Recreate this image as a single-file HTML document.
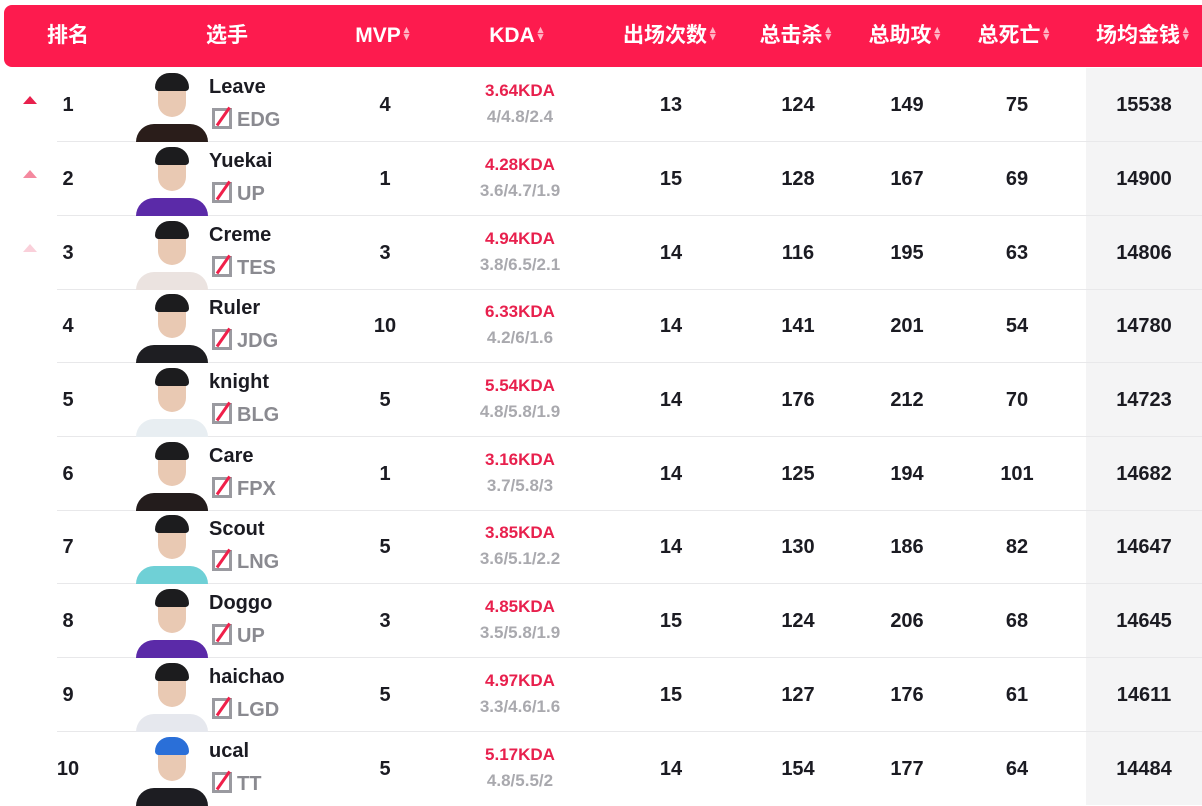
<!DOCTYPE html>
<html><head><meta charset="utf-8"><style>
*{margin:0;padding:0;box-sizing:border-box}
body{width:1202px;height:805px;background:#fff;position:relative;overflow:hidden;font-family:"Liberation Sans","Noto Sans CJK SC",sans-serif;color:#1b1b22}
.hd{position:absolute;left:4px;top:5px;width:1198px;height:62px;background:#fd1b4e;border-radius:8px 0 0 8px}
.h{position:absolute;top:5px;height:62px;line-height:62px;color:#fff;font-weight:bold;font-size:21px;transform:translateX(-50%);white-space:nowrap;font-family:"Liberation Sans","Noto Sans CJK SC",sans-serif}
.h i{font-style:normal;font-size:11px;color:#ffb3c3;margin-left:3px;vertical-align:2px;display:inline-block;line-height:7px;width:9px}
.gold{position:absolute;left:1086px;top:68px;width:116px;height:737px;background:#f4f4f5}
.r{position:absolute;left:0;width:1202px;height:74px}
.r .ln{position:absolute;left:57px;right:0;bottom:0;height:1px;background:#e8e8ea}
.c{position:absolute;top:0;height:74px;line-height:74px;font-weight:bold;font-size:20px;transform:translateX(-50%)}
.nm{position:absolute;left:209px;top:8px;font-weight:bold;font-size:20px}
.tm{position:absolute;left:212px;top:40px;font-weight:bold;font-size:20px;color:#8a8a90}
.tm b{display:inline-block;width:20px;height:21px;border:3px solid #9a9aa0;vertical-align:-3px;margin-right:5px;position:relative}
.tm b:after{content:"";position:absolute;left:2px;bottom:-1px;width:22px;height:3px;background:#f0204a;transform:rotate(-55deg);transform-origin:left}
.k1{position:absolute;left:520px;top:13px;transform:translateX(-50%);color:#e8204d;font-weight:bold;font-size:17px}
.k2{position:absolute;left:520px;top:39px;transform:translateX(-50%);color:#a9a9ae;font-weight:bold;font-size:17px}
.av{position:absolute;left:136px;top:1px;width:72px;height:73px;overflow:hidden}
.av .b{position:absolute;left:0;bottom:0;width:72px;height:18px;border-radius:20px 20px 0 0}
.av .f{position:absolute;left:22px;top:10px;width:28px;height:38px;background:#e9c9b3;border-radius:12px 12px 14px 14px}
.av .hr{position:absolute;left:19px;top:4px;width:34px;height:18px;background:#1c1c1e;border-radius:16px 16px 4px 4px}
.ar{position:absolute;left:23px;top:28px;width:0;height:0;border-left:7px solid transparent;border-right:7px solid transparent;border-bottom:8px solid #e8204d}
.ar:after{content:"";position:absolute;left:-2px;top:7px;width:4px;height:6px;background:inherit}
</style></head><body>
<div class="gold"></div>
<div class="hd"></div>
<div class="h" style="left:68px">排名</div>
<div class="h" style="left:227px">选手</div>
<div class="h" style="left:384px">MVP<i>▴<br>▾</i></div>
<div class="h" style="left:518px">KDA<i>▴<br>▾</i></div>
<div class="h" style="left:671px">出场次数<i>▴<br>▾</i></div>
<div class="h" style="left:797px">总击杀<i>▴<br>▾</i></div>
<div class="h" style="left:906px">总助攻<i>▴<br>▾</i></div>
<div class="h" style="left:1015px">总死亡<i>▴<br>▾</i></div>
<div class="h" style="left:1144px">场均金钱<i>▴<br>▾</i></div>

<div class="r" style="top:68px"><div class="ln"></div><div class="ar" style="border-bottom-color:#e8204d"><span></span></div><div class="c" style="left:68px">1</div><div class="av"><div class="b" style="background:#2a1d1a"></div><div class="f"></div><div class="hr"></div></div><div class="nm">Leave</div><div class="tm"><b></b>EDG</div><div class="c" style="left:385px">4</div><div class="k1">3.64KDA</div><div class="k2">4/4.8/2.4</div><div class="c" style="left:671px">13</div><div class="c" style="left:798px">124</div><div class="c" style="left:907px">149</div><div class="c" style="left:1017px">75</div><div class="c" style="left:1144px">15538</div></div>

<div class="r" style="top:142px"><div class="ln"></div><div class="ar" style="border-bottom-color:#f4899f"></div><div class="c" style="left:68px">2</div><div class="av"><div class="b" style="background:#5b2aa8"></div><div class="f"></div><div class="hr"></div></div><div class="nm">Yuekai</div><div class="tm"><b></b>UP</div><div class="c" style="left:385px">1</div><div class="k1">4.28KDA</div><div class="k2">3.6/4.7/1.9</div><div class="c" style="left:671px">15</div><div class="c" style="left:798px">128</div><div class="c" style="left:907px">167</div><div class="c" style="left:1017px">69</div><div class="c" style="left:1144px">14900</div></div>

<div class="r" style="top:216px"><div class="ln"></div><div class="ar" style="border-bottom-color:#fad0da"></div><div class="c" style="left:68px">3</div><div class="av"><div class="b" style="background:#ebe3e0"></div><div class="f"></div><div class="hr"></div></div><div class="nm">Creme</div><div class="tm"><b></b>TES</div><div class="c" style="left:385px">3</div><div class="k1">4.94KDA</div><div class="k2">3.8/6.5/2.1</div><div class="c" style="left:671px">14</div><div class="c" style="left:798px">116</div><div class="c" style="left:907px">195</div><div class="c" style="left:1017px">63</div><div class="c" style="left:1144px">14806</div></div>

<div class="r" style="top:289px"><div class="ln"></div><div class="c" style="left:68px">4</div><div class="av"><div class="b" style="background:#1e1e22"></div><div class="f"></div><div class="hr"></div></div><div class="nm">Ruler</div><div class="tm"><b></b>JDG</div><div class="c" style="left:385px">10</div><div class="k1">6.33KDA</div><div class="k2">4.2/6/1.6</div><div class="c" style="left:671px">14</div><div class="c" style="left:798px">141</div><div class="c" style="left:907px">201</div><div class="c" style="left:1017px">54</div><div class="c" style="left:1144px">14780</div></div>

<div class="r" style="top:363px"><div class="ln"></div><div class="c" style="left:68px">5</div><div class="av"><div class="b" style="background:#e8eef2"></div><div class="f"></div><div class="hr"></div></div><div class="nm">knight</div><div class="tm"><b></b>BLG</div><div class="c" style="left:385px">5</div><div class="k1">5.54KDA</div><div class="k2">4.8/5.8/1.9</div><div class="c" style="left:671px">14</div><div class="c" style="left:798px">176</div><div class="c" style="left:907px">212</div><div class="c" style="left:1017px">70</div><div class="c" style="left:1144px">14723</div></div>

<div class="r" style="top:437px"><div class="ln"></div><div class="c" style="left:68px">6</div><div class="av"><div class="b" style="background:#231c1c"></div><div class="f"></div><div class="hr"></div></div><div class="nm">Care</div><div class="tm"><b></b>FPX</div><div class="c" style="left:385px">1</div><div class="k1">3.16KDA</div><div class="k2">3.7/5.8/3</div><div class="c" style="left:671px">14</div><div class="c" style="left:798px">125</div><div class="c" style="left:907px">194</div><div class="c" style="left:1017px">101</div><div class="c" style="left:1144px">14682</div></div>

<div class="r" style="top:510px"><div class="ln"></div><div class="c" style="left:68px">7</div><div class="av"><div class="b" style="background:#6fd0d6"></div><div class="f"></div><div class="hr"></div></div><div class="nm">Scout</div><div class="tm"><b></b>LNG</div><div class="c" style="left:385px">5</div><div class="k1">3.85KDA</div><div class="k2">3.6/5.1/2.2</div><div class="c" style="left:671px">14</div><div class="c" style="left:798px">130</div><div class="c" style="left:907px">186</div><div class="c" style="left:1017px">82</div><div class="c" style="left:1144px">14647</div></div>

<div class="r" style="top:584px"><div class="ln"></div><div class="c" style="left:68px">8</div><div class="av"><div class="b" style="background:#5b2aa8"></div><div class="f"></div><div class="hr"></div></div><div class="nm">Doggo</div><div class="tm"><b></b>UP</div><div class="c" style="left:385px">3</div><div class="k1">4.85KDA</div><div class="k2">3.5/5.8/1.9</div><div class="c" style="left:671px">15</div><div class="c" style="left:798px">124</div><div class="c" style="left:907px">206</div><div class="c" style="left:1017px">68</div><div class="c" style="left:1144px">14645</div></div>

<div class="r" style="top:658px"><div class="ln"></div><div class="c" style="left:68px">9</div><div class="av"><div class="b" style="background:#e6e8ee"></div><div class="f"></div><div class="hr"></div></div><div class="nm">haichao</div><div class="tm"><b></b>LGD</div><div class="c" style="left:385px">5</div><div class="k1">4.97KDA</div><div class="k2">3.3/4.6/1.6</div><div class="c" style="left:671px">15</div><div class="c" style="left:798px">127</div><div class="c" style="left:907px">176</div><div class="c" style="left:1017px">61</div><div class="c" style="left:1144px">14611</div></div>

<div class="r" style="top:732px"><div class="c" style="left:68px">10</div><div class="av"><div class="b" style="background:#1d1d22"></div><div class="f"></div><div class="hr" style="background:#2a6fd8"></div></div><div class="nm">ucal</div><div class="tm"><b></b>TT</div><div class="c" style="left:385px">5</div><div class="k1">5.17KDA</div><div class="k2">4.8/5.5/2</div><div class="c" style="left:671px">14</div><div class="c" style="left:798px">154</div><div class="c" style="left:907px">177</div><div class="c" style="left:1017px">64</div><div class="c" style="left:1144px">14484</div></div>
</body></html>
